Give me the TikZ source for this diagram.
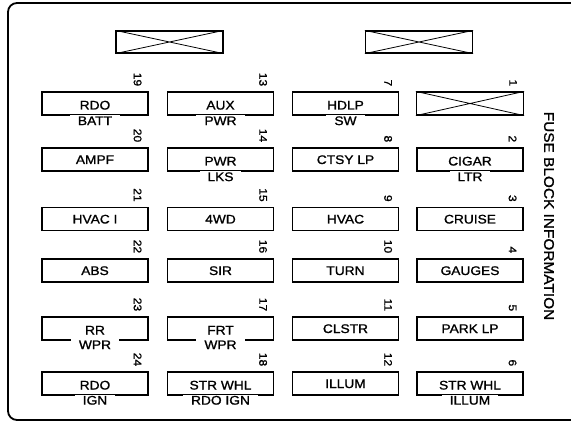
\documentclass[tikz,border=0pt]{standalone}
\usepackage{fontspec}
\setmainfont[FakeStretch=1.1,FakeBold=1.2]{Liberation Sans}

\begin{document}
\begin{tikzpicture}[x=1pt,y=-1pt,
    fuse/.style={draw,line width=1.2pt,minimum width=106pt,minimum height=23pt,inner sep=0pt,
        font=\fontsize{12.5}{14}\selectfont,text height=9pt,text depth=0pt},
    upper/.style={text height=12pt},
    lower/.style={fill=white,inner xsep=8pt,inner ysep=1pt,
        font=\fontsize{12.5}{14}\selectfont,text height=9pt,text depth=0pt},
    fusenum/.style={rotate=-90,anchor=east,inner sep=0pt,font=\fontsize{11}{12}\selectfont},
    blank/.style={draw,line width=1.2pt,minimum width=107pt,minimum height=22pt,inner sep=0pt},
    cross/.style={line width=0.8pt}]
    \useasboundingbox (0,0) rectangle (571,425);
    % frame
    \draw[line width=1.8pt,rounded corners=9pt] (571,3) -- (8,3) -- (8,420) -- (571,420);
    % spare slots
    \node[blank] (c1) at (169.5,42) {};
    \node[blank] (c2) at (419,42) {};
    \draw[cross] (c1.north west) -- (c1.south east) (c1.south west) -- (c1.north east);
    \draw[cross] (c2.north west) -- (c2.south east) (c2.south west) -- (c2.north east);
    \node[rotate=-90,font=\fontsize{14}{16}\selectfont] (title) at (549,216) {FUSE BLOCK INFORMATION};

    % first column
    \node[fuse,upper] (f19) at (95,103.5) {RDO};
    \node[lower] (f19b) at ([yshift=-5pt]f19.south) {BATT};
    \node[fusenum] (n19) at ([xshift=-11pt,yshift=5pt]f19.north east) {19};
    \node[fuse] (f20) at (95,159.5) {AMPF};
    \node[fusenum] (n20) at ([xshift=-11pt,yshift=5pt]f20.north east) {20};
    \node[fuse] (f21) at (95,219) {HVAC I};
    \node[fusenum] (n21) at ([xshift=-11pt,yshift=5pt]f21.north east) {21};
    \node[fuse] (f22) at (95,270.5) {ABS};
    \node[fusenum] (n22) at ([xshift=-11pt,yshift=5pt]f22.north east) {22};
    \node[fuse,upper] (f23) at (95,328.5) {RR};
    \node[lower] (f23b) at ([yshift=-4pt]f23.south) {WPR};
    \node[fusenum] (n23) at ([xshift=-11pt,yshift=5pt]f23.north east) {23};
    \node[fuse,upper] (f24) at (95,383.5) {RDO};
    \node[lower] (f24b) at ([yshift=-4.5pt]f24.south) {IGN};
    \node[fusenum] (n24) at ([xshift=-11pt,yshift=5pt]f24.north east) {24};

    % second column
    \node[fuse,upper] (f13) at (220.5,103.5) {AUX};
    \node[lower] (f13b) at ([yshift=-5pt]f13.south) {PWR};
    \node[fusenum] (n13) at ([xshift=-11pt,yshift=5pt]f13.north east) {13};
    \node[fuse,upper] (f14) at (220.5,159.5) {PWR};
    \node[lower] (f14b) at ([yshift=-5pt]f14.south) {LKS};
    \node[fusenum] (n14) at ([xshift=-11pt,yshift=5pt]f14.north east) {14};
    \node[fuse] (f15) at (220.5,219) {4WD};
    \node[fusenum] (n15) at ([xshift=-11pt,yshift=5pt]f15.north east) {15};
    \node[fuse] (f16) at (220.5,270.5) {SIR};
    \node[fusenum] (n16) at ([xshift=-11pt,yshift=5pt]f16.north east) {16};
    \node[fuse,upper] (f17) at (220.5,328.5) {FRT};
    \node[lower] (f17b) at ([yshift=-4pt]f17.south) {WPR};
    \node[fusenum] (n17) at ([xshift=-11pt,yshift=5pt]f17.north east) {17};
    \node[fuse,upper] (f18) at (220.5,383.5) {STR WHL};
    \node[lower] (f18b) at ([yshift=-4.5pt]f18.south) {RDO IGN};
    \node[fusenum] (n18) at ([xshift=-11pt,yshift=5pt]f18.north east) {18};

    % third column
    \node[fuse,upper] (f7) at (345.5,103.5) {HDLP};
    \node[lower] (f7b) at ([yshift=-5pt]f7.south) {SW};
    \node[fusenum] (n7) at ([xshift=-11pt,yshift=5pt]f7.north east) {7};
    \node[fuse] (f8) at (345.5,159.5) {CTSY LP};
    \node[fusenum] (n8) at ([xshift=-11pt,yshift=5pt]f8.north east) {8};
    \node[fuse] (f9) at (345.5,219) {HVAC};
    \node[fusenum] (n9) at ([xshift=-11pt,yshift=5pt]f9.north east) {9};
    \node[fuse] (f10) at (345.5,270.5) {TURN};
    \node[fusenum] (n10) at ([xshift=-11pt,yshift=5pt]f10.north east) {10};
    \node[fuse] (f11) at (345.5,328.5) {CLSTR};
    \node[fusenum] (n11) at ([xshift=-11pt,yshift=5pt]f11.north east) {11};
    \node[fuse] (f12) at (345.5,383.5) {ILLUM};
    \node[fusenum] (n12) at ([xshift=-11pt,yshift=5pt]f12.north east) {12};

    % fourth column
    \node[blank,minimum height=23pt] (f1) at (470,103.5) {};
    \draw[cross] (f1.north west) -- (f1.south east) (f1.south west) -- (f1.north east);
    \node[fusenum] (n1) at ([xshift=-11pt,yshift=5pt]f1.north east) {1};
    \node[fuse,upper] (f2) at (470,159.5) {CIGAR};
    \node[lower] (f2b) at ([yshift=-5pt]f2.south) {LTR};
    \node[fusenum] (n2) at ([xshift=-11pt,yshift=5pt]f2.north east) {2};
    \node[fuse] (f3) at (470,219) {CRUISE};
    \node[fusenum] (n3) at ([xshift=-11pt,yshift=5pt]f3.north east) {3};
    \node[fuse] (f4) at (470,270.5) {GAUGES};
    \node[fusenum] (n4) at ([xshift=-11pt,yshift=5pt]f4.north east) {4};
    \node[fuse] (f5) at (470,328.5) {PARK LP};
    \node[fusenum] (n5) at ([xshift=-11pt,yshift=5pt]f5.north east) {5};
    \node[fuse,upper] (f6) at (470,383.5) {STR WHL};
    \node[lower] (f6b) at ([yshift=-4.5pt]f6.south) {ILLUM};
    \node[fusenum] (n6) at ([xshift=-11pt,yshift=5pt]f6.north east) {6};
\end{tikzpicture}
\end{document}
